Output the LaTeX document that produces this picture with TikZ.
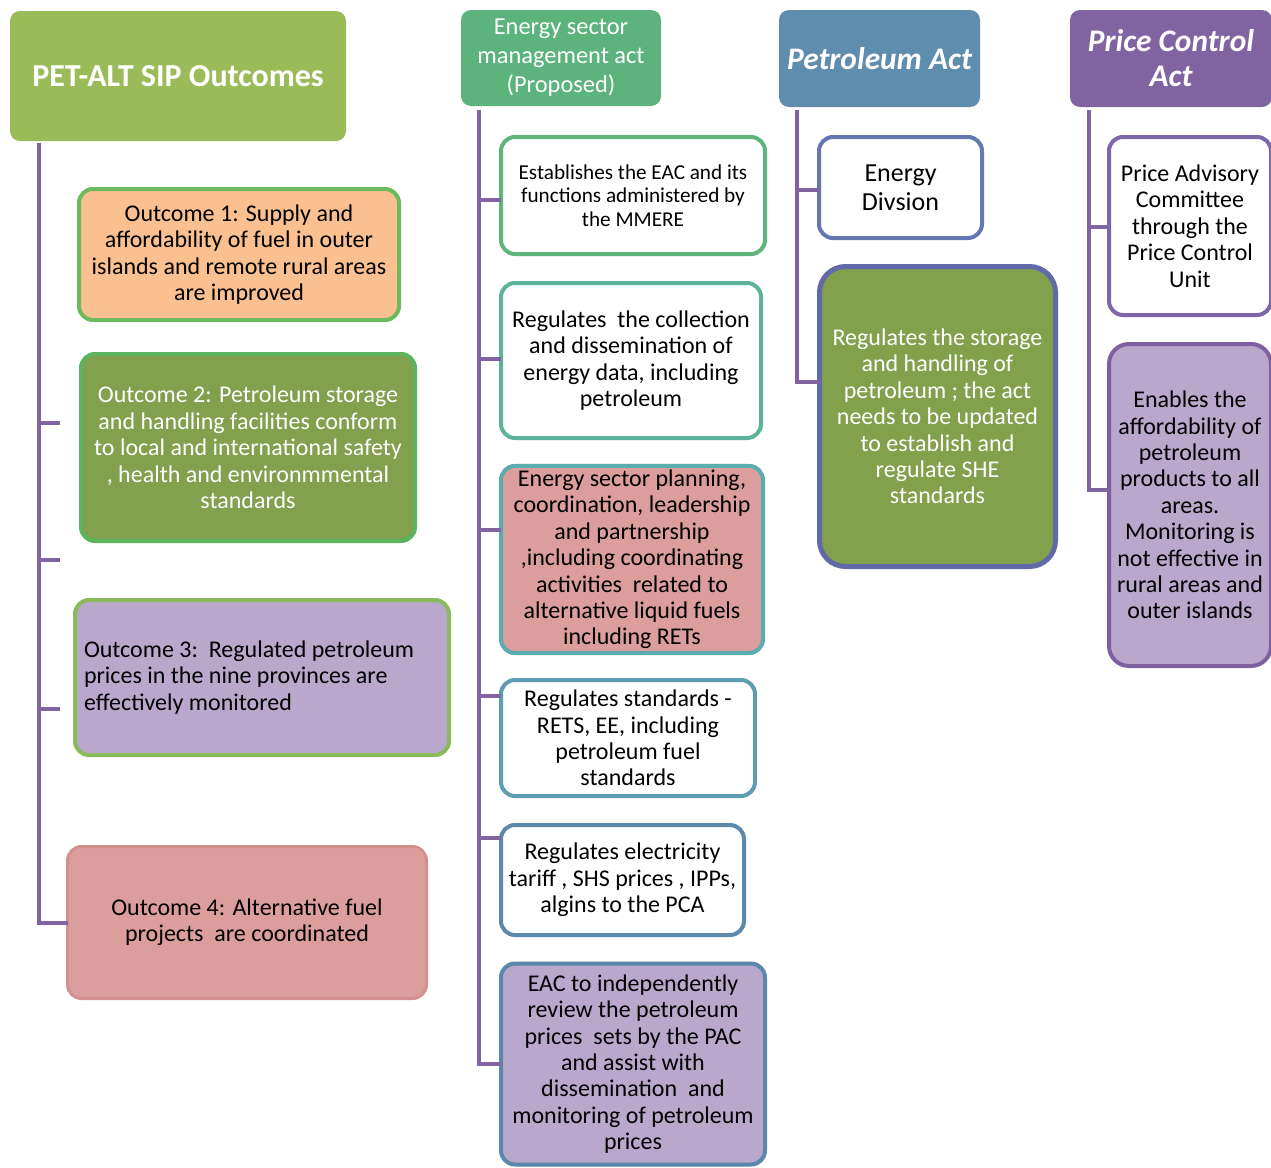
\documentclass[tikz,border=0pt]{standalone}
\usepackage{fontspec}
\setmainfont{Carlito}
\definecolor{purp}{HTML}{8064A2}
\definecolor{hOne}{HTML}{9BBB59}
\definecolor{oOneFill}{HTML}{FAC090}
\definecolor{oOneDraw}{HTML}{6CBA5C}
\definecolor{oTwoFill}{HTML}{82A04E}
\definecolor{oTwoDraw}{HTML}{5AB55E}
\definecolor{lavender}{HTML}{B9A8CC}
\definecolor{oThreeDraw}{HTML}{8BBA5B}
\definecolor{pinkFill}{HTML}{DB9E9D}
\definecolor{oFourDraw}{HTML}{D4908F}
\definecolor{hTwo}{HTML}{5CB47C}
\definecolor{aDraw}{HTML}{5DB57A}
\definecolor{bDraw}{HTML}{5DB29B}
\definecolor{cDraw}{HTML}{5AACAE}
\definecolor{dDraw}{HTML}{5D9CB2}
\definecolor{eDraw}{HTML}{5B89AD}
\definecolor{fDraw}{HTML}{5C86AC}
\definecolor{hThree}{HTML}{5F8DAE}
\definecolor{gDraw}{HTML}{6577B0}
\definecolor{iFill}{HTML}{83A04D}
\definecolor{iDraw}{HTML}{6169A9}
\definecolor{hhDraw}{HTML}{7D66A9}
\definecolor{jDraw}{HTML}{7E5FA1}
\begin{document}
\begin{tikzpicture}[x=0.5pt,y=-0.5pt,
  every node/.style={outer sep=0pt, inner sep=2pt, align=center},
  conn/.style={draw=purp, line width=2pt},
  header/.style={rounded corners=5pt, text=white},
  hdfont/.style={font=\fontsize{15.7}{17.5}\selectfont\bfseries\itshape},
  boxa/.style={rounded corners=7pt, line width=2pt, font=\fontsize{12}{13.2}\selectfont},
]
\useasboundingbox (0,0) rectangle (1271,1168);
\clip (0,0) rectangle (1271,1168);
\fill[white] (0,0) rectangle (1271,1168);

% ---------- column 1 ----------
\node[header, fill=hOne, minimum width=168pt, minimum height=65pt,
      font=\fontsize{16}{18}\selectfont\bfseries] (h1) at (178,76) {PET-ALT SIP Outcomes};
\node[boxa, fill=oOneFill, draw=oOneDraw, minimum width=160pt, minimum height=65.5pt] (o1) at (239,254.5)
  {Outcome 1: Supply and\\affordability of fuel in outer\\islands and remote rural areas\\are improved};
\node[boxa, fill=oTwoFill, draw=oTwoDraw, text=white, minimum width=167pt, minimum height=93.5pt] (o2) at (248,447.5)
  {Outcome 2: Petroleum storage\\and handling facilities conform\\to local and international safety\\, health and environmmental\\standards};
\node[boxa, fill=lavender, draw=oThreeDraw, minimum width=187pt, minimum height=77.5pt, text width=178pt, align=flush left] (o3) at (262,677.5)
  {Outcome 3:\ \ Regulated petroleum\\prices in the nine provinces are\\effectively monitored};
\node[boxa, fill=pinkFill, draw=oFourDraw, line width=1.5pt, minimum width=179.5pt, minimum height=76pt] (o4) at (247,922.5)
  {Outcome 4: Alternative fuel\\projects~ are coordinated};

\coordinate (t1) at (39,143);
\coordinate (k1a) at (60,423);
\coordinate (k1b) at (60,560);
\coordinate (k1c) at (60,709);
\draw[conn] (t1) |- (o4.west);
\draw[conn] (k1a -| t1) -- (k1a);
\draw[conn] (k1b -| t1) -- (k1b);
\draw[conn] (k1c -| t1) -- (k1c);

% ---------- column 2 ----------
\node[header, fill=hTwo, minimum width=100pt, minimum height=48pt,
      font=\fontsize{12.2}{14.5}\selectfont] (h2) at (561,58) {Energy sector\\management act\\(Proposed)};
\node[boxa, fill=white, draw=aDraw, minimum width=132pt, minimum height=58.5pt,
      font=\fontsize{10.6}{11.75}\selectfont] (a) at (633,195.5)
  {Establishes the EAC and its\\functions administered by\\the MMERE};
\node[boxa, fill=white, draw=bDraw, minimum width=130pt, minimum height=77.5pt] (b) at (631,360.5)
  {Regulates~ the collection\\and dissemination of\\energy data, including\\petroleum};
\node[boxa, fill=pinkFill, draw=cDraw, minimum width=131pt, minimum height=92.5pt] (c) at (632,559.5)
  {Energy sector planning,\\coordination, leadership\\and partnership\\,including coordinating\\activities~ related to\\alternative liquid fuels\\including RETs};
\node[boxa, fill=white, draw=dDraw, minimum width=127pt, minimum height=58pt] (d) at (628,738)
  {Regulates standards -\\RETS, EE, including\\petroleum fuel\\standards};
\node[boxa, fill=white, draw=eDraw, minimum width=121.5pt, minimum height=55pt] (e) at (622.5,880)
  {Regulates electricity\\tariff , SHS prices , IPPs,\\algins to the PCA};
\node[boxa, fill=lavender, draw=fDraw, minimum width=132pt, minimum height=100.5pt] (f) at (633,1064)
  {EAC to independently\\review the petroleum\\prices~ sets by the PAC\\and assist with\\dissemination~ and\\monitoring of petroleum\\prices};

\coordinate (t2) at (479,110);
\coordinate (k2a) at (479,200);
\coordinate (k2b) at (479,359);
\coordinate (k2c) at (479,530);
\coordinate (k2d) at (479,696);
\coordinate (k2e) at (479,838);
\draw[conn] (t2) |- (f.west);
\draw[conn] (k2a) -- (k2a -| a.west);
\draw[conn] (k2b) -- (k2b -| b.west);
\draw[conn] (k2c) -- (k2c -| c.west);
\draw[conn] (k2d) -- (k2d -| d.west);
\draw[conn] (k2e) -- (k2e -| e.west);

% ---------- column 3 ----------
\node[header, fill=hThree, hdfont, minimum width=100.5pt, minimum height=48.5pt] (h3) at (879.5,58.5) {Petroleum Act};
\node[boxa, fill=white, draw=gDraw, minimum width=81.5pt, minimum height=50.5pt,
      font=\fontsize{13}{14.5}\selectfont] (g) at (900.5,187.5) {Energy\\Divsion};
\node[boxa, fill=iFill, draw=iDraw, text=white, line width=2.5pt, rounded corners=13pt,
      minimum width=118pt, minimum height=150pt] (i) at (937.5,416.5)
  {Regulates the storage\\and handling of\\petroleum ; the act\\needs to be updated\\to establish and\\regulate SHE\\standards};

\coordinate (t3) at (797,110);
\coordinate (k3g) at (797,190);
\coordinate (k3i) at (797,382);
\draw[conn] (t3) |- (k3i -| i.west);
\draw[conn] (k3g) -- (k3g -| g.west);

% ---------- column 4 ----------
\node[header, fill=purp, hdfont, minimum width=101pt, minimum height=48.5pt] (h4) at (1171,58.5) {Price Control\\Act};
\node[boxa, fill=white, draw=hhDraw, minimum width=81pt, minimum height=89pt] (hh) at (1190,226)
  {Price Advisory\\Committee\\through the\\Price Control\\Unit};
\node[boxa, fill=lavender, draw=jDraw, rounded corners=10pt, minimum width=81pt, minimum height=161pt] (j) at (1190,505)
  {Enables the\\affordability of\\petroleum\\products to all\\areas.\\Monitoring is\\not effective in\\rural areas and\\outer islands};

\coordinate (t4) at (1089,110);
\coordinate (k4h) at (1089,227);
\coordinate (k4j) at (1089,490);
\draw[conn] (t4) |- (k4j -| j.west);
\draw[conn] (k4h) -- (k4h -| hh.west);
\end{tikzpicture}
\end{document}
